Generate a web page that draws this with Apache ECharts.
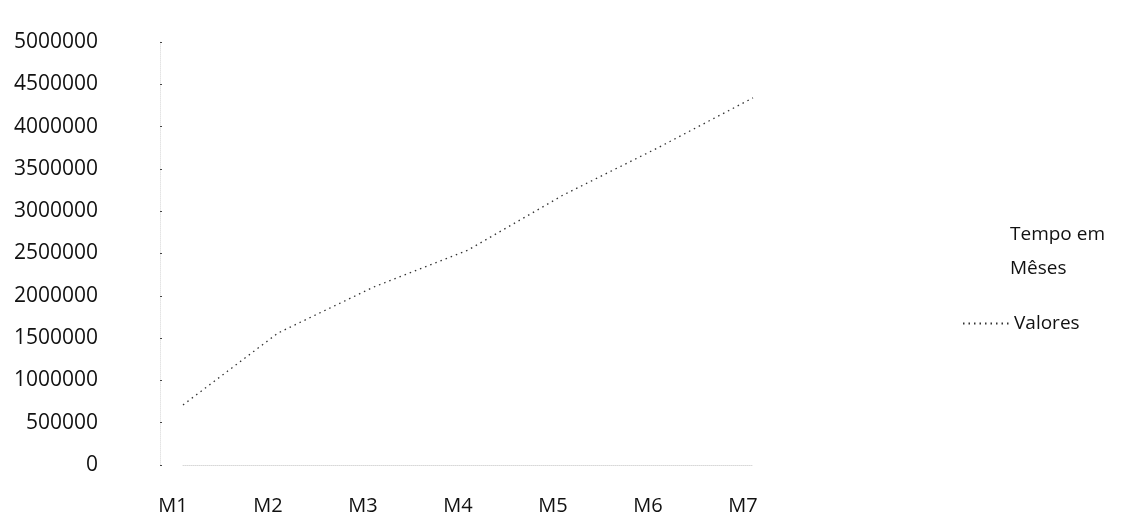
<!DOCTYPE html>
<html><head><meta charset="utf-8">
<script src="https://cdn.jsdelivr.net/npm/echarts@6/dist/echarts.min.js"></script>
<style>html,body{margin:0;padding:0;background:#fff}#c{width:1122px;height:517px}</style>
</head><body><div id="c"></div>
<script>
const categories = ['M1','M2','M3','M4','M5','M6','M7'];
const valores = [710000, 1560000, 2100000, 2540000, 3190000, 3750000, 4340000];
const seriesName = 'Valores';
const legendTitle = 'Tempo em\nMêses';

const chart = echarts.init(document.getElementById('c'), null, {renderer:'canvas'});
const font = '"Open Sans", sans-serif';
chart.setOption({
  animation:false,
  backgroundColor:'#fff',
  color:['#333'],
  title:{text:legendTitle,left:1005,top:213,textStyle:{fontFamily:font,fontSize:19,fontWeight:'normal',color:'#111',lineHeight:34}},
  legend:{data:[seriesName],left:957,top:309,itemWidth:46,itemHeight:4,itemGap:4,
    itemStyle:{opacity:0},
    textStyle:{fontFamily:font,fontSize:19,color:'#111'}},
  grid:{left:183,right:369,top:42,bottom:52,containLabel:false},
  xAxis:{type:'category',data:categories,boundaryGap:false,
    axisLine:{show:true,lineStyle:{color:'#d8d8d8',type:'dotted'}},
    axisTick:{show:false},
    axisLabel:{fontFamily:font,fontSize:20,color:'#111',margin:31,padding:[0,20,0,0]},
    splitLine:{show:false}},
  yAxis:{type:'value',min:0,max:5000000,interval:500000,offset:23,
    axisLine:{show:true,lineStyle:{color:'#e4e4e4',type:'dotted'}},
    axisTick:{show:true,length:2,inside:true,lineStyle:{color:'#444'}},
    axisLabel:{fontFamily:font,fontSize:21,color:'#111',margin:62,formatter:function(v){return String(v);}},
    splitLine:{show:false}},
  series:[{name:seriesName,type:'line',data:valores,symbol:'none',
    itemStyle:{color:'#333'},
    lineStyle:{color:'#333',width:1.3,type:[1.5,4]}}]
});
</script></body></html>
